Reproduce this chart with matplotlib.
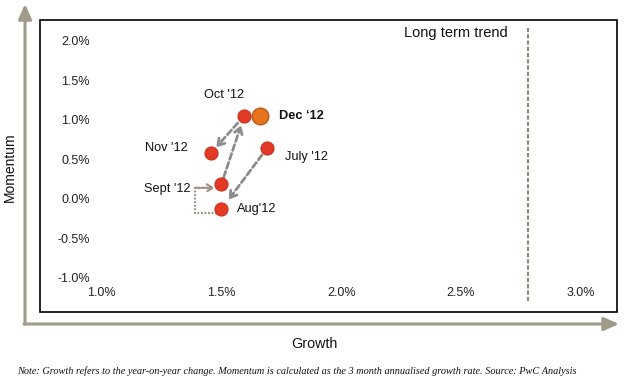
import matplotlib
matplotlib.use("Agg")
import matplotlib.pyplot as plt
from matplotlib.patches import Rectangle, FancyArrowPatch

plt.rcParams['font.family'] = ['Liberation Sans', 'DejaVu Sans']

# ---------------- data ----------------
months = ["July '12", "Aug'12", "Sept '12", "Oct '12", "Nov '12", "Dec \u201812"]
growth = [1.69, 1.50, 1.50, 1.595, 1.456, 1.66]          # %
momentum = [0.64, -0.13, 0.19, 1.05, 0.58, 1.05]         # %
long_term_trend = 2.78
x_ticks = [1.0, 1.5, 2.0, 2.5, 3.0]
x_tick_labels = ["1.0%", "1.5%", "2.0%", "2.5%", "3.0%"]
y_ticks = [-1.0, -0.5, 0.0, 0.5, 1.0, 1.5, 2.0]
y_tick_labels = ["-1.0%", "-0.5%", "0.0%", "0.5%", "1.0%", "1.5%", "2.0%"]
note = ("Note: Growth refers to the year-on-year change. Momentum is calculated as the "
        "3 month annualised growth rate. Source: PwC Analysis")

W, H = 624, 382
fig = plt.figure(figsize=(W / 100, H / 100), dpi=100)
fig.patch.set_facecolor('white')

def fx(px):
    return px / W

def fy(py):
    return 1 - py / H

# outer frame
fig.patches.append(Rectangle((fx(40), fy(312)), (617 - 40) / W, (312 - 20) / H,
                             transform=fig.transFigure, fill=False, ec='black', lw=1.2))

# gray L-shaped axis arrows
axis_col = '#A09B88'
for start, end in [((fx(25), fy(324)), (fx(25), fy(4))),
                   ((fx(24), fy(324)), (fx(619), fy(324)))]:
    fig.patches.append(FancyArrowPatch(start, end, transform=fig.transFigure,
                                       arrowstyle='-|>,head_length=0.9,head_width=0.4',
                                       mutation_scale=10, color=axis_col, lw=2.2,
                                       shrinkA=0, shrinkB=0))

fig.text(fx(10), fy(167), "Momentum", rotation=90, ha='center', va='center',
         fontsize=10, color='#111111')
fig.text(fx(314), fy(344), "Growth", ha='center', va='center', fontsize=10.3, color='#111111')

nt = fig.text(fx(17), fy(371), note, ha='left', va='center', fontsize=7.3,
              family=['Liberation Serif', 'DejaVu Serif'], style='italic', color='#111111')
fig.canvas.draw()
w = nt.get_window_extent().width
nt.set_fontsize(7.3 * 566 / w)

# main axes (data area)
ax = fig.add_axes([fx(101.7), fy(278), (580.8 - 101.7) / W, (278 - 40.7) / H])
ax.patch.set_alpha(0)
ax.set_xlim(1.0, 3.0)
ax.set_ylim(-1.0, 2.0)
for s in ax.spines.values():
    s.set_visible(False)
ax.set_xticks(x_ticks)
ax.set_xticklabels(x_tick_labels)
ax.set_yticks(y_ticks)
ax.set_yticklabels(y_tick_labels)
ax.tick_params(length=0, labelsize=9, labelcolor='#222222')
ax.tick_params(axis='x', pad=6.5)
ax.tick_params(axis='y', pad=8.4)

# long term trend
ax.plot([long_term_trend, long_term_trend], [2.16, -1.32], color='#8E8778', lw=1.5,
        linestyle=(0, (2, 1)), clip_on=False)
ax.annotate("Long term trend", xy=(long_term_trend, 2.0), xytext=(-14.4, 5.5),
            textcoords='offset points', ha='right', va='center', fontsize=10.5,
            color='#111111', annotation_clip=False)

# arrows
dash_col = '#8C8C8C'
def arrow(i, j, sa, sb):
    ax.annotate('', xy=(growth[j], momentum[j]), xytext=(growth[i], momentum[i]),
                arrowprops=dict(arrowstyle='->,head_length=0.45,head_width=0.28',
                                color=dash_col, lw=2.0, linestyle=(0, (2.2, 1.2)),
                                shrinkA=sa, shrinkB=sb))

arrow(0, 1, 6, 8.5)   # July -> Aug
arrow(2, 3, 5, 7)     # Sept -> Oct
arrow(3, 4, 7, 5.5)   # Oct -> Nov

# dotted Aug -> Sept path
dot_col = '#A08E7C'
xl = min(growth[1], growth[2]) - 0.11
ya = momentum[1] - 0.05
ys = momentum[2] - 0.05
ax.plot([growth[1] - 0.017, xl, xl], [ya, ya, ys], color=dot_col, lw=1.6,
        linestyle=(0, (0.8, 0.8)))
ax.annotate('', xy=(growth[2], ys), xytext=(xl, ys),
            arrowprops=dict(arrowstyle='->,head_length=0.4,head_width=0.25',
                            color=dot_col, lw=1.6, linestyle=(0, (0.8, 0.8)),
                            shrinkA=0, shrinkB=5))

# points
for k in range(5):
    ax.plot(growth[k], momentum[k], 'o', ms=9.4, mfc='#E23A25', mec='#C8301E', mew=0.8,
            zorder=5)
ax.plot(growth[5], momentum[5], 'o', ms=12, mfc='#E8731E', mec='#B85A18', mew=1.0, zorder=5)

# labels
offsets = [(13, -6.5, 'left'), (11.5, 0, 'left'), (-22, -3.6, 'right'),
           (-14.6, 15, 'center'), (-17, 3.6, 'right'), (14, 0, 'left')]
for k, (dx, dy, ha) in enumerate(offsets):
    ax.annotate(months[k], xy=(growth[k], momentum[k]), xytext=(dx, dy),
                textcoords='offset points', ha=ha, va='center', fontsize=9.2,
                color='#111111', fontweight='bold' if k == 5 else 'normal')

fig.savefig('out.png', dpi=100)
